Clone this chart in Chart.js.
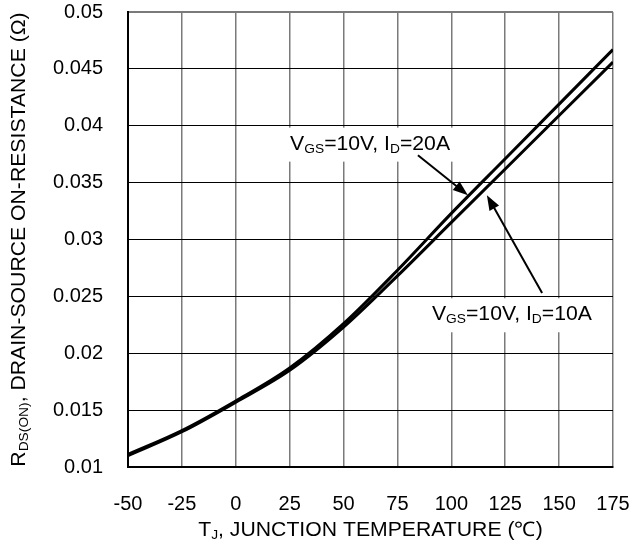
<!DOCTYPE html>
<html lang="en">
<head>
  <meta charset="UTF-8">
  <title>RDS(ON) vs Junction Temperature</title>
  <script src="https://cdn.jsdelivr.net/npm/chart.js"></script>
  <style>
    html, body {
      margin: 0;
      padding: 0;
      background: white;
    }

    .wrap {
      position: relative;
      width: 633px;
      height: 548px;
    }
  </style>
</head>
<body>
  <div class="wrap">
    <canvas id="grafico"></canvas>
  </div>

  <script>
    // data
    const temps = [-50, -25, 0, 25, 50, 75, 100, 125, 150, 175];
    const rds20A = [0.0111, 0.0132, 0.0158, 0.0187, 0.0226, 0.0273, 0.0323, 0.0371, 0.0419, 0.0467];
    const rds10A = [0.0110, 0.0131, 0.0157, 0.0185, 0.0223, 0.0268, 0.0315, 0.0362, 0.0409, 0.0456];

    const xTicks = [-50, -25, 0, 25, 50, 75, 100, 125, 150, 175];
    const yTicks = [0.01, 0.015, 0.02, 0.025, 0.03, 0.035, 0.04, 0.045, 0.05];

    // callouts: label anchor, arrow tail and arrow tip, in data units
    const callouts = [
      { parts: [['V'], ['GS', 1], ['=10V, I'], ['D', 1], ['=20A']], at: [25.2, 0.0379], tail: [84.5, 0.0374], tip: [107.7, 0.0339] },
      { parts: [['V'], ['GS', 1], ['=10V, I'], ['D', 1], ['=10A']], at: [91.0, 0.0229], tail: [142.1, 0.0253], tip: [116.5, 0.0339] }
    ];

    const xTitle = [['T'], ['J', 1], [', JUNCTION TEMPERATURE (\u2103)']];
    const yTitle = [['R'], ['DS(ON)', 1], [', DRAIN-SOURCE ON-RESISTANCE (\u03A9)']];

    const FONT = 'Arial, "Liberation Sans", sans-serif';
    const STRETCH = 1.06;

    function richWidth(ctx, parts) {
      let w = 0;
      parts.forEach(p => {
        ctx.font = (p[1] ? 13 : 20) + 'px ' + FONT;
        w += ctx.measureText(p[0]).width;
      });
      return w * STRETCH;
    }

    // draws text with subscripts, starting at x (left), baseline y
    function drawRich(ctx, parts, x, y) {
      ctx.save();
      ctx.translate(x, y);
      ctx.scale(STRETCH, 1);
      ctx.fillStyle = 'black';
      ctx.textBaseline = 'alphabetic';
      ctx.textAlign = 'left';
      let cx = 0;
      parts.forEach(p => {
        ctx.font = (p[1] ? 13 : 20) + 'px ' + FONT;
        ctx.fillText(p[0], cx, p[1] ? 3 : 0);
        cx += ctx.measureText(p[0]).width;
      });
      ctx.restore();
    }

    function arrow(ctx, x1, y1, x2, y2) {
      const ang = Math.atan2(y2 - y1, x2 - x1);
      const len = 15, half = 5.5;
      ctx.save();
      ctx.strokeStyle = 'black';
      ctx.fillStyle = 'black';
      ctx.lineWidth = 2;
      ctx.beginPath();
      ctx.moveTo(x1, y1);
      ctx.lineTo(x2 - Math.cos(ang) * len * 0.8, y2 - Math.sin(ang) * len * 0.8);
      ctx.stroke();
      ctx.beginPath();
      ctx.moveTo(x2, y2);
      ctx.lineTo(x2 - Math.cos(ang) * len - Math.sin(ang) * half, y2 - Math.sin(ang) * len + Math.cos(ang) * half);
      ctx.lineTo(x2 - Math.cos(ang) * len + Math.sin(ang) * half, y2 - Math.sin(ang) * len - Math.cos(ang) * half);
      ctx.closePath();
      ctx.fill();
      ctx.restore();
    }

    const extras = {
      id: 'extras',
      afterDraw(chart) {
        const ctx = chart.ctx;
        const xs = chart.scales.x, ys = chart.scales.y;
        const area = chart.chartArea;

        callouts.forEach(c => {
          const lx = xs.getPixelForValue(c.at[0]);
          const ly = ys.getPixelForValue(c.at[1]);
          const w = richWidth(ctx, c.parts);
          ctx.fillStyle = 'white';
          ctx.fillRect(lx - 6, ly - 22, w + 12, 34);
          drawRich(ctx, c.parts, lx, ly);
          arrow(ctx, xs.getPixelForValue(c.tail[0]), ys.getPixelForValue(c.tail[1]),
                xs.getPixelForValue(c.tip[0]), ys.getPixelForValue(c.tip[1]));
        });

        // x axis title
        const wx = richWidth(ctx, xTitle);
        drawRich(ctx, xTitle, (area.left + area.right) / 2 - wx / 2, 536);

        // y axis title, rotated
        const wy = richWidth(ctx, yTitle);
        ctx.save();
        ctx.translate(25, (area.top + area.bottom) / 2 + wy / 2);
        ctx.rotate(-Math.PI / 2);
        drawRich(ctx, yTitle, 0, 0);
        ctx.restore();
      }
    };

    const ctx = document.getElementById('grafico').getContext('2d');

    new Chart(ctx, {
      type: 'line',
      data: {
        datasets: [
          {
            label: 'VGS=10V, ID=20A',
            data: temps.map((t, i) => ({ x: t, y: rds20A[i] })),
            borderColor: 'black',
            borderWidth: 3,
            pointRadius: 0,
            cubicInterpolationMode: 'monotone',
            fill: false
          },
          {
            label: 'VGS=10V, ID=10A',
            data: temps.map((t, i) => ({ x: t, y: rds10A[i] })),
            borderColor: 'black',
            borderWidth: 3,
            pointRadius: 0,
            cubicInterpolationMode: 'monotone',
            fill: false
          }
        ]
      },
      options: {
        responsive: true,
        maintainAspectRatio: false,
        animation: false,
        layout: { padding: { top: 12, right: 20, left: 0, bottom: 0 } },
        plugins: {
          legend: { display: false },
          tooltip: { enabled: false }
        },
        scales: {
          x: {
            type: 'linear',
            min: -50,
            max: 175,
            afterBuildTicks: s => { s.ticks = xTicks.map(v => ({ value: v })); },
            afterFit: s => { s.height = 81; s.paddingLeft = 0; s.paddingRight = 0; },
            ticks: {
              color: 'black',
              padding: 25,
              font: { family: FONT, size: 20 },
              maxRotation: 0
            },
            grid: { color: '#7a7a7a', lineWidth: 1.5, drawTicks: false },
            border: { display: true, color: 'black', width: 2 }
          },
          y: {
            type: 'linear',
            min: 0.01,
            max: 0.05,
            afterBuildTicks: s => { s.ticks = yTicks.map(v => ({ value: v })); },
            afterFit: s => { s.width = 128; s.paddingTop = 0; s.paddingBottom = 0; },
            ticks: {
              color: 'black',
              padding: 25,
              font: { family: FONT, size: 20 },
              callback: v => String(+v.toFixed(3))
            },
            grid: {
              color: c => (c.tick && Math.abs(c.tick.value - 0.05) < 1e-9) ? '#7a7a7a' : 'black',
              lineWidth: c => (c.tick && Math.abs(c.tick.value - 0.05) < 1e-9) ? 2 : 1,
              drawTicks: false
            },
            border: { display: true, color: 'black', width: 2 }
          }
        }
      },
      plugins: [extras]
    });
  </script>
</body>
</html>
